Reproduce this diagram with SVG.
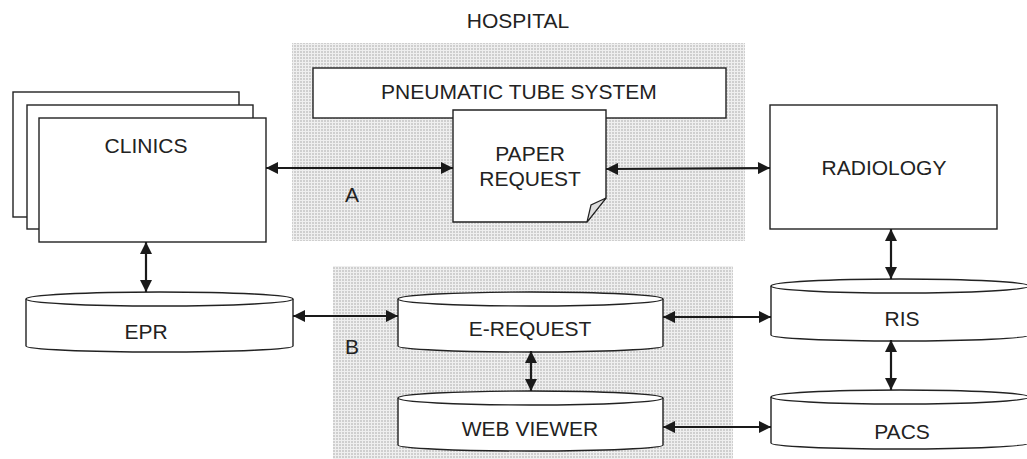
<svg xmlns="http://www.w3.org/2000/svg" width="1027" height="459" viewBox="0 0 1027 459">
<style>
.box{fill:#fff;stroke:#222;stroke-width:1.4}
.lbl{font-family:"Liberation Sans",Arial,sans-serif;font-size:21px;fill:#222;text-anchor:middle}
.conn{stroke:#1a1a1a;stroke-width:2.2;fill:none;marker-start:url(#ah);marker-end:url(#ah)}
.zone{fill:url(#dots)}
</style>
<defs>
<pattern id="dots" width="3" height="3" patternUnits="userSpaceOnUse">
<rect width="3" height="3" fill="#efefef"/>
<rect width="2" height="2" fill="#cfcfcf"/>
</pattern>
<marker id="ah" viewBox="0 0 10 10" refX="10" refY="5" markerUnits="userSpaceOnUse" markerWidth="13" markerHeight="12" orient="auto-start-reverse">
<path d="M0,0 L10,5 L0,10 z" fill="#1a1a1a"/>
</marker>
</defs>
<rect width="1027" height="459" fill="#fff"/>
<g id="hospital-zones">
<rect class="zone" x="292" y="43" width="453" height="198"/>
<rect class="zone" x="333" y="266" width="400" height="193"/>
<text class="lbl" x="518" y="28">HOSPITAL</text>
</g>
<g id="clinics">
<rect class="box" x="13" y="92" width="226" height="125"/>
<rect class="box" x="27" y="105" width="226" height="124"/>
<rect class="box" x="39" y="118" width="227" height="124"/>
<text class="lbl" x="146" y="153">CLINICS</text>
</g>
<g id="pneumatic">
<rect class="box" x="313" y="68" width="413" height="50"/>
<text class="lbl" x="519" y="99">PNEUMATIC TUBE SYSTEM</text>
</g>
<g id="paper-request">
<path class="box" d="M453,110 H606 V198 L587,222 H453 Z"/>
<path d="M587,222 L591,205 L606,198 Z" fill="#ddd" stroke="#222" stroke-width="1.2"/>
<text class="lbl" x="530" y="161">PAPER</text>
<text class="lbl" x="530" y="186">REQUEST</text>
</g>
<g id="radiology">
<rect class="box" x="770" y="105" width="227" height="124"/>
<text class="lbl" x="884" y="175">RADIOLOGY</text>
</g>
<g id="epr">
<path class="box" d="M26,299 V346 A133.5,6 0 0 0 293,346 V299"/>
<ellipse class="box" cx="159.5" cy="299" rx="133.5" ry="7"/>
<text class="lbl" x="146" y="339">EPR</text>
</g>
<g id="e-request">
<path class="box" d="M398,299 V346 A132.5,6 0 0 0 663,346 V299"/>
<ellipse class="box" cx="530.5" cy="299" rx="132.5" ry="7"/>
<text class="lbl" x="530" y="336">E-REQUEST</text>
</g>
<g id="web-viewer">
<path class="box" d="M398,398 V445 A132.5,6 0 0 0 663,445 V398"/>
<ellipse class="box" cx="530.5" cy="398" rx="132.5" ry="7"/>
<text class="lbl" x="530" y="436">WEB VIEWER</text>
</g>
<g id="ris">
<path class="box" d="M771,286 V335 A129,6 0 0 0 1029,335 V286"/>
<ellipse class="box" cx="900" cy="286" rx="129" ry="7"/>
<text class="lbl" x="902" y="326">RIS</text>
</g>
<g id="pacs">
<path class="box" d="M771,397 V443 A129,6 0 0 0 1029,443 V397"/>
<ellipse class="box" cx="900" cy="397" rx="129" ry="7"/>
<text class="lbl" x="902" y="439">PACS</text>
</g>
<g id="connectors">
<line class="conn" x1="266" y1="168" x2="453" y2="168"/>
<line class="conn" x1="606" y1="169" x2="770" y2="168"/>
<line class="conn" x1="146" y1="242" x2="146" y2="292"/>
<line class="conn" x1="293" y1="316" x2="398" y2="316"/>
<line class="conn" x1="531" y1="351" x2="531" y2="391"/>
<line class="conn" x1="663" y1="317" x2="771" y2="317"/>
<line class="conn" x1="663" y1="427" x2="771" y2="427"/>
<line class="conn" x1="891" y1="229" x2="891" y2="279"/>
<line class="conn" x1="891" y1="340" x2="891" y2="390"/>
<text class="lbl" x="352" y="202">A</text>
<text class="lbl" x="352" y="354">B</text>
</g>
</svg>
